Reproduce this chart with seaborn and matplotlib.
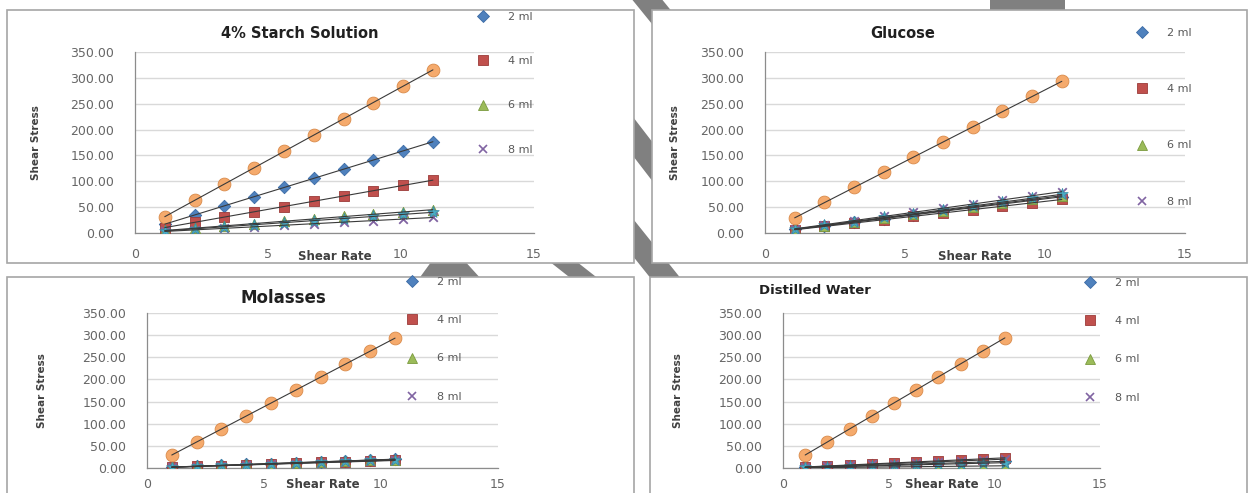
import numpy as np
import pandas as pd
import matplotlib
matplotlib.use("Agg")
import matplotlib.pyplot as plt
from matplotlib.patches import Rectangle, Polygon
from matplotlib.lines import Line2D
import seaborn as sns

sns.set_theme(style="white")
plt.rcParams["font.family"] = ["DejaVu Sans"]

W, H = 1252, 493

# ---- data -------------------------------------------------------------
series = ["2 ml", "4 ml", "6 ml", "8 ml", "10 ml", "12 ml"]

starch_rate = [1.12, 2.24, 3.36, 4.48, 5.60, 6.72, 7.84, 8.96, 10.08, 11.20]
starch_2ml = [18, 34, 52, 70, 88, 106, 124, 141, 159, 176]
starch_4ml = [10, 21, 31, 41, 51, 61, 72, 82, 92, 102]
starch_6ml = [5, 9, 14, 18, 23, 27, 32, 36, 41, 45]
starch_8ml = [3, 6, 9, 12, 15, 18, 21, 24, 27, 30]
starch_10ml = [4, 8, 12, 16, 20, 24, 28, 32, 36, 40]
starch_12ml = [31, 63, 95, 126, 158, 190, 221, 252, 284, 315]

glucose_rate = [1.06, 2.12, 3.18, 4.24, 5.30, 6.36, 7.42, 8.48, 9.54, 10.60]
glucose_2ml = [7, 14, 21, 28, 35, 42, 49, 56, 63, 70]
glucose_4ml = [6, 13, 19, 26, 32, 39, 45, 52, 58, 65]
glucose_6ml = [7, 14, 22, 29, 36, 43, 50, 58, 65, 72]
glucose_8ml = [8, 16, 24, 32, 40, 48, 56, 64, 72, 80]
glucose_10ml = [7, 15, 22, 30, 37, 45, 52, 60, 67, 75]
glucose_12ml = [29, 59, 88, 117, 147, 176, 205, 235, 264, 293]

molasses_rate = [1.06, 2.12, 3.18, 4.24, 5.30, 6.36, 7.42, 8.48, 9.54, 10.60]
molasses_2ml = [2, 4, 6, 8, 10, 12, 14, 16, 18, 20]
molasses_4ml = [2, 4, 5, 7, 9, 11, 13, 14, 16, 18]
molasses_6ml = [2, 4, 6, 8, 10, 12, 14, 16, 18, 19]
molasses_8ml = [2, 3, 5, 7, 9, 10, 12, 14, 15, 17]
molasses_10ml = [2, 4, 6, 7, 9, 11, 13, 15, 17, 19]
molasses_12ml = [29, 59, 88, 117, 147, 176, 205, 235, 264, 293]

water_rate = [1.05, 2.10, 3.15, 4.20, 5.25, 6.30, 7.35, 8.40, 9.45, 10.50]
water_2ml = [1.5, 3, 4.5, 6, 7.5, 9, 10.5, 12, 13.5, 15]
water_4ml = [2.3, 4.6, 6.9, 9.2, 11.5, 13.8, 16.1, 18.4, 20.7, 23]
water_6ml = [0.5, 1, 1.5, 2, 2.5, 3, 3.5, 4, 4.5, 5]
water_8ml = [2, 4, 6, 8, 10, 12, 14, 16, 18, 20]
water_10ml = [1.2, 2.4, 3.6, 4.8, 6, 7.2, 8.4, 9.6, 10.8, 12]
water_12ml = [29, 59, 88, 118, 147, 176, 206, 235, 264, 294]

y_ticks = [0, 50, 100, 150, 200, 250, 300, 350]
x_ticks = [0, 5, 10, 15]


def frame(rate, *cols):
    rows = []
    for name, vals in zip(series, cols):
        for r, v in zip(rate, vals):
            rows.append({"series": name, "rate": r, "stress": v})
    return pd.DataFrame(rows)


panels = [
    dict(title="4% Starch Solution", title_size=10.5,
         df=frame(starch_rate, starch_2ml, starch_4ml, starch_6ml, starch_8ml, starch_10ml, starch_12ml),
         box=(7, 10, 634, 263), ax=(135, 534, 52, 233),
         title_xy=(300, 34), ylab_x=36, xlab_y=256, xpad=8,
         leg=(477, 12), leg_gap=47),
    dict(title="Glucose", title_size=10.5,
         df=frame(glucose_rate, glucose_2ml, glucose_4ml, glucose_6ml, glucose_8ml, glucose_10ml, glucose_12ml),
         box=(652, 10, 1247, 263), ax=(765, 1185, 52, 233),
         title_xy=(903, 34), ylab_x=675, xlab_y=256, xpad=8,
         leg=(1136, 28), leg_gap=59),
    dict(title="Molasses", title_size=12,
         df=frame(molasses_rate, molasses_2ml, molasses_4ml, molasses_6ml, molasses_8ml, molasses_10ml, molasses_12ml),
         box=(7, 277, 634, 500), ax=(147, 498, 313, 468),
         title_xy=(283, 298), ylab_x=42, xlab_y=485, xpad=4,
         leg=(406, 277), leg_gap=41),
    dict(title="Distilled Water", title_size=9.5,
         df=frame(water_rate, water_2ml, water_4ml, water_6ml, water_8ml, water_10ml, water_12ml),
         box=(650, 277, 1247, 500), ax=(783, 1100, 313, 468),
         title_xy=(815, 290), ylab_x=678, xlab_y=485, xpad=4,
         leg=(1084, 278), leg_gap=41),
]

style = {
    "2 ml": dict(marker="D", s=40, color="#4F81BD", ec="#3A6AA5"),
    "4 ml": dict(marker="s", s=55, color="#C0504D", ec="#9C3B39"),
    "6 ml": dict(marker="^", s=55, color="#9BBB59", ec="#7A9A3E"),
    "8 ml": dict(marker="x", s=38, color="#8064A2", ec=None),
    "10 ml": dict(marker="*", s=75, color="#4BACC6", ec="#3A8FA8"),
    "12 ml": dict(marker="o", s=85, color="#F5AA6C", ec="#D98A4A"),
}

fig = plt.figure(figsize=(W / 100, H / 100), dpi=100)
fig.patch.set_facecolor("white")


def fx(x):
    return x / W


def fy(y):
    return 1 - y / H


# watermark strokes showing between the chart boxes
wm = "#808080"
strokes = [
    [(600, -40), (630, -40), (760, 120), (730, 120)],
    [(590, 100), (620, 100), (720, 230), (690, 230)],
    [(600, 215), (630, 215), (690, 290), (660, 290)],
    [(418, 280), (434, 258), (462, 258), (482, 280)],
    [(545, 258), (572, 258), (600, 280), (573, 280)],
    [(990, -5), (1065, -5), (1065, 12), (990, 12)],
]
for pts in strokes:
    fig.add_artist(Polygon([(fx(a), fy(b)) for a, b in pts], closed=True,
                           transform=fig.transFigure, facecolor=wm,
                           edgecolor="none", zorder=0.1))

legend_handles = []
for name in series[:4]:
    st = style[name]
    if st["marker"] == "x":
        h = Line2D([], [], ls="none", marker="x", ms=6, mew=1.2, color=st["color"])
    else:
        h = Line2D([], [], ls="none", marker=st["marker"], ms=6.5,
                   mfc=st["color"], mec=st["ec"], mew=0.6)
    legend_handles.append(h)

for p in panels:
    bx0, by0, bx1, by1 = p["box"]
    fig.add_artist(Rectangle((fx(bx0), fy(by1)), fx(bx1 - bx0), (by1 - by0) / H,
                             transform=fig.transFigure, facecolor="white",
                             edgecolor="#A6A6A6", lw=1.2, zorder=0.5))

    x0, x15, y350, y0 = p["ax"]
    ax = fig.add_axes([fx(x0), fy(y0), (x15 - x0) / W, (y0 - y350) / H])
    ax.set_zorder(1)
    ax.patch.set_alpha(0)

    df = p["df"]
    for name in series:
        d = df[df["series"] == name]
        st = style[name]
        if st["marker"] == "x":
            sns.scatterplot(data=d, x="rate", y="stress", ax=ax, marker="x",
                            s=st["s"], color=st["color"], linewidth=1.3,
                            legend=False, zorder=3)
        else:
            sns.scatterplot(data=d, x="rate", y="stress", ax=ax,
                            marker=st["marker"], s=st["s"], color=st["color"],
                            edgecolor=st["ec"], linewidth=0.6,
                            legend=False, zorder=3)
        sns.regplot(data=d, x="rate", y="stress", ax=ax, scatter=False,
                    ci=None, truncate=True,
                    line_kws=dict(color="#3A3A3A", lw=0.8, zorder=4))

    ax.set_xlim(0, 15)
    ax.set_ylim(0, 350)
    ax.set_xticks(x_ticks)
    ax.set_yticks(y_ticks)
    ax.set_xticklabels([str(t) for t in x_ticks])
    ax.set_yticklabels([f"{t:.2f}" for t in y_ticks])
    ax.grid(axis="y", color="#D9D9D9", lw=1.0)
    ax.set_axisbelow(True)
    for side in ("top", "right"):
        ax.spines[side].set_visible(False)
    for side in ("left", "bottom"):
        ax.spines[side].set_color("#8C8C8C")
        ax.spines[side].set_linewidth(0.9)
    ax.tick_params(axis="both", direction="out", length=3, width=0.8,
                   color="#8C8C8C", labelcolor="#666666", labelsize=9)
    ax.tick_params(axis="y", pad=12)
    ax.tick_params(axis="x", pad=p["xpad"])

    ax.set_xlabel("Shear Rate", fontsize=8.5, fontweight="bold", color="#404040")
    ax.xaxis.label.set_va("center")
    ax.xaxis.set_label_coords(0.5, -(p["xlab_y"] - y0) / (y0 - y350))
    ax.set_ylabel("Shear Stress", fontsize=7.5, fontweight="bold", color="#404040")
    ax.yaxis.label.set_va("center")
    ax.yaxis.set_label_coords((p["ylab_x"] - x0) / (x15 - x0), 0.5)

    tx, ty = p["title_xy"]
    fig.text(fx(tx), fy(ty), p["title"], ha="center", va="center",
             fontsize=p["title_size"], fontweight="bold", color="#202020")

    lx, ly = p["leg"]
    fs = 8.0
    fs_px = fs * 100 / 72
    spacing = (p["leg_gap"] - fs_px * 1.15) / fs_px
    leg = fig.legend(legend_handles, series[:4], loc="upper left",
                     bbox_to_anchor=(fx(lx), fy(ly)), frameon=False,
                     fontsize=fs, labelcolor="#595959", handlelength=1.0,
                     handletextpad=1.8, borderpad=0, borderaxespad=0,
                     labelspacing=spacing)
    leg.set_zorder(2)

fig.savefig("out.png", dpi=100, facecolor="white")
